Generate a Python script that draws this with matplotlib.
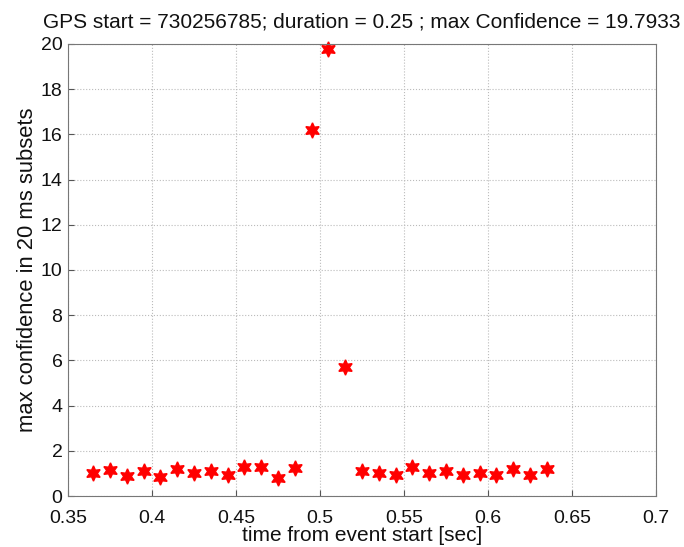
import matplotlib
matplotlib.use("Agg")
import matplotlib.pyplot as plt
import numpy as np

plt.rcParams['font.family'] = ['Liberation Sans', 'DejaVu Sans']

# subset centre times (sec) and max confidence in each 20 ms subset
times = [0.365, 0.375, 0.385, 0.395, 0.405, 0.415, 0.425, 0.435, 0.445,
         0.455, 0.465, 0.475, 0.485, 0.495, 0.505, 0.515, 0.525, 0.535,
         0.545, 0.555, 0.565, 0.575, 0.585, 0.595, 0.605, 0.615, 0.625, 0.635]
confidence = [1.0, 1.15, 0.9, 1.1, 0.85, 1.2, 1.0, 1.1, 0.95,
              1.3, 1.3, 0.8, 1.25, 16.2, 19.7933, 5.7, 1.1, 1.0,
              0.95, 1.3, 1.0, 1.1, 0.95, 1.0, 0.95, 1.2, 0.95, 1.2]

xticks = [0.35, 0.4, 0.45, 0.5, 0.55, 0.6, 0.65, 0.7]
xticklabels = ['0.35', '0.4', '0.45', '0.5', '0.55', '0.6', '0.65', '0.7']
yticks = list(range(0, 21, 2))

fig = plt.figure(figsize=(6.84, 5.47), dpi=100)
ax = fig.add_axes([0.0994, 0.0932, 0.8596, 0.8264])

ax.plot(times, confidence, linestyle='none', marker=(6, 1, 0),
        markersize=11, color='red', markeredgecolor='red', clip_on=False)

ax.set_xlim(0.35, 0.7)
ax.set_ylim(0, 20)
ax.set_xticks(xticks)
ax.set_xticklabels(xticklabels)
ax.set_yticks(yticks)
ax.grid(True, linestyle=':', color='#bbbbbb', linewidth=0.8)
ax.tick_params(direction='in', length=4, labelsize=14, color='#555555',
               labelcolor='#111111')
ax.tick_params(axis='x', pad=10)
ax.tick_params(axis='y', pad=4)
for side in ax.spines.values():
    side.set_color('#777777')
    side.set_linewidth(0.8)

ax.set_xlabel('time from event start [sec]', fontsize=15, labelpad=-1,
              color='#111111')
ax.set_ylabel('max confidence in 20 ms subsets', fontsize=15.8, labelpad=2,
              color='#111111')
ax.set_title('GPS start = 730256785; duration = 0.25 ; max Confidence = 19.7933',
             fontsize=15, pad=12, color='#111111')

fig.savefig('out.png', dpi=100)
